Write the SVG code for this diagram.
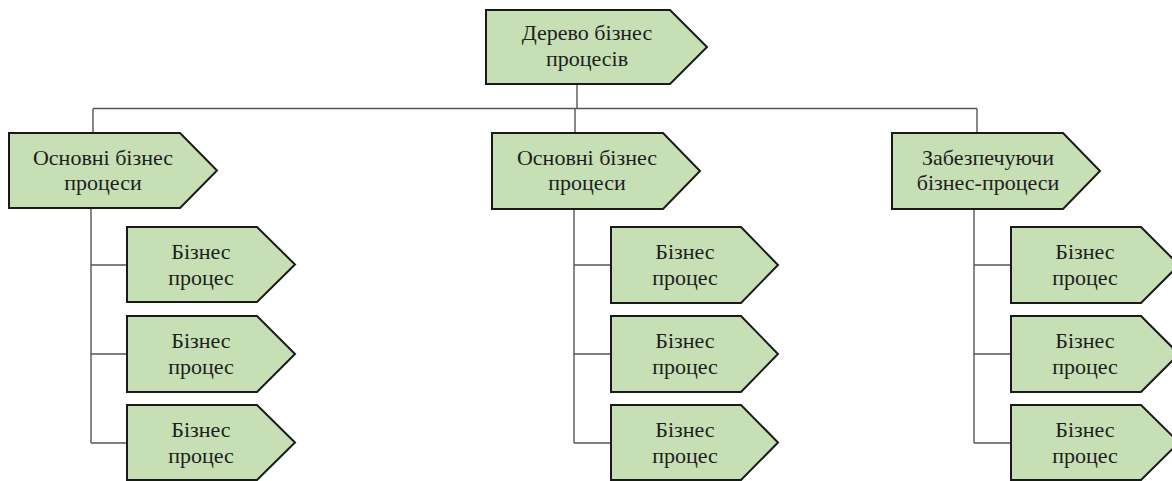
<svg xmlns="http://www.w3.org/2000/svg" width="1172" height="481" viewBox="0 0 1172 481">
<style>
.n{fill:#c6dfb4;stroke:#1a1a1a;stroke-width:2;stroke-linejoin:miter}
.t{font-family:"Liberation Serif","Times New Roman",serif;font-size:22px;fill:#1e1e1e;text-anchor:middle}
.c{fill:none;stroke:#555;stroke-width:1.4}
</style>
<rect width="1172" height="481" fill="#fff"/>
<g id="connectors">
<path class="c" d="M577 84V108.5M93 108.5H977M93 108.5V133M575 108.5V133M977 108.5V133"/>
<path class="c" d="M91 208V443M91 265H127M91 354H127M91 443H127"/>
<path class="c" d="M574 209V443M574 265H611M574 354H611M574 443H611"/>
<path class="c" d="M974 209V443M974 265H1011M974 354H1011M974 443H1011"/>
</g>
<g id="root"><polygon class="n" points="486,10 670,10 707,47 670,84 486,84"/><text class="t" x="587" y="40">Дерево бізнес</text><text class="t" x="587" y="66">процесів</text></g>
<g id="main1"><polygon class="n" points="9,133 180,133 217,170.5 180,208 9,208"/><text class="t" x="103" y="165">Основні бізнес</text><text class="t" x="103" y="190">процеси</text></g>
<g id="main2"><polygon class="n" points="492,133 663,133 700,171 663,209 492,209"/><text class="t" x="587" y="165">Основні бізнес</text><text class="t" x="587" y="190">процеси</text></g>
<g id="support"><polygon class="n" points="892,133 1063,133 1100,171 1063,209 892,209"/><text class="t" x="988" y="165">Забезпечуючи</text><text class="t" x="988" y="190">бізнес-процеси</text></g>
<g id="bp1a"><polygon class="n" points="127,227 257,227 295,264.5 257,302 127,302"/><text class="t" x="201" y="259">Бізнес</text><text class="t" x="201" y="285">процес</text></g>
<g id="bp1b"><polygon class="n" points="127,316 257,316 295,354 257,392 127,392"/><text class="t" x="201" y="348">Бізнес</text><text class="t" x="201" y="374">процес</text></g>
<g id="bp1c"><polygon class="n" points="127,405 257,405 295,442.5 257,480 127,480"/><text class="t" x="201" y="437">Бізнес</text><text class="t" x="201" y="463">процес</text></g>
<g id="bp2a"><polygon class="n" points="611,227 741,227 778,265 741,303 611,303"/><text class="t" x="685" y="259">Бізнес</text><text class="t" x="685" y="285">процес</text></g>
<g id="bp2b"><polygon class="n" points="611,316 741,316 778,354 741,392 611,392"/><text class="t" x="685" y="348">Бізнес</text><text class="t" x="685" y="374">процес</text></g>
<g id="bp2c"><polygon class="n" points="611,405 741,405 778,442.5 741,480 611,480"/><text class="t" x="685" y="437">Бізнес</text><text class="t" x="685" y="463">процес</text></g>
<g id="bp3a"><polygon class="n" points="1011,227 1141,227 1179,265 1141,303 1011,303"/><text class="t" x="1085" y="259">Бізнес</text><text class="t" x="1085" y="285">процес</text></g>
<g id="bp3b"><polygon class="n" points="1011,316 1141,316 1179,354 1141,392 1011,392"/><text class="t" x="1085" y="348">Бізнес</text><text class="t" x="1085" y="374">процес</text></g>
<g id="bp3c"><polygon class="n" points="1011,405 1141,405 1179,442.5 1141,480 1011,480"/><text class="t" x="1085" y="437">Бізнес</text><text class="t" x="1085" y="463">процес</text></g>
</svg>
